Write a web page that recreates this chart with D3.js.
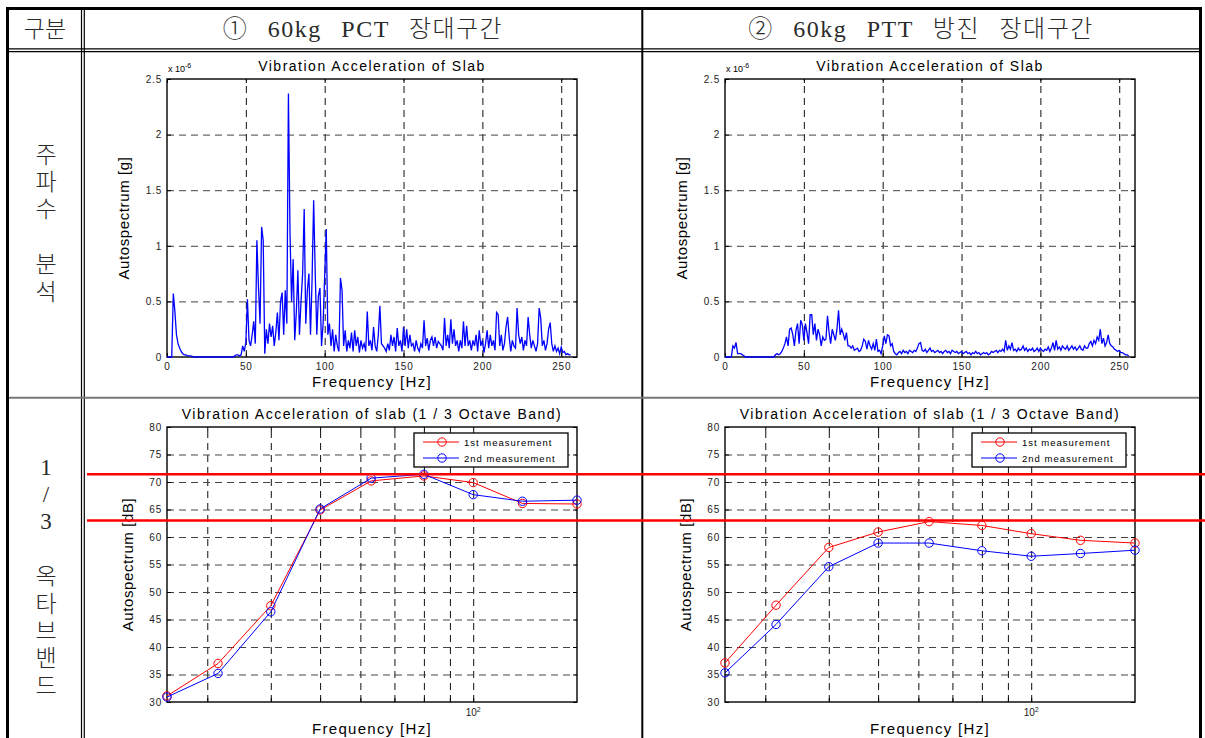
<!DOCTYPE html>
<html>
<head>
<meta charset="utf-8">
<script src="https://cdnjs.cloudflare.com/ajax/libs/d3/7.8.5/d3.min.js"></script>
<style>
body { margin: 0; background: #fff; }
svg { display: block; }
</style>
</head>
<body>
<script>
// table texts
var headCorner = "구분";
var headCols = ["① 60kg PCT 장대구간", "② 60kg PTT 방진 장대구간"];
var rowLabelTop = ["주", "파", "수", "", "분", "석"];
var rowLabelBottom = ["1", "/", "3", "", "옥", "타", "브", "밴", "드"];

var specTitle = "Vibration Acceleration of Slab";
var octTitle = "Vibration Acceleration of slab (1 / 3 Octave Band)";
var legendNames = ["1st measurement", "2nd measurement"];

// autospectrum, 1 Hz bins from 0 to 256 Hz, unit 1e-6 g
var specPCT = [
  0,0,0,0,.57,.41,.2,.12,.08,.05,
  .03,.02,.02,.01,.01,.01,.005,0,0,0,
  0,0,0,0,0,0,0,0,0,0,
  0,0,0,0,0,0,0,0,0,0,
  0,0,0,.01,.02,.02,.01,.02,.1,.05,
  .13,.52,.15,.1,.2,.32,.12,1.05,.63,.3,
  1.17,1.05,.03,.25,.12,.3,.18,.28,.1,.22,
  .4,.15,.5,.58,.2,.6,.3,2.37,1.12,.5,
  .88,.15,.4,.78,.2,.5,.75,1.33,.3,.6,
  .75,.2,.7,1.41,.75,.2,.55,.62,.1,.3,
  .73,1.15,.2,.3,.1,.25,.05,.2,.1,.05,
  .71,.6,.1,.24,.05,.15,.08,.22,.05,.24,
  .1,.18,.04,.15,.08,.12,.05,.41,.1,.15,
  .06,.27,.1,.05,.2,.46,.12,.1,.08,.05,
  .12,.06,.2,.1,.18,.05,.26,.1,.15,.05,
  .27,.1,.25,.08,.2,.1,.12,.05,.15,.08,
  .05,.12,.08,.33,.1,.17,.06,.15,.18,.1,
  .18,.08,.14,.12,.1,.06,.35,.1,.2,.08,
  .34,.12,.25,.1,.15,.05,.15,.08,.32,.1,
  .28,.1,.15,.06,.15,.1,.2,.05,.24,.1,
  .15,.04,.12,.24,.08,.2,.1,.15,.06,.4,
  .38,.1,.2,.06,.12,.27,.36,.18,.05,.15,
  .1,.08,.44,.2,.12,.18,.06,.15,.1,.36,
  .2,.08,.15,.1,.05,.12,.44,.35,.1,.15,
  .06,.12,.25,.31,.12,.05,.1,.05,.08,.03,
  .09,.04,.05,.02,.03,.02,.02
];
var specPTT = [
  0,0,0,0,0,.1,.08,.13,.03,.03,
  .03,.02,.01,0,0,0,0,0,0,0,
  0,0,0,0,0,0,0,0,0,0,
  0,0,.02,.03,.02,.03,.05,.08,.12,.18,
  .1,.25,.26,.2,.1,.24,.3,.12,.33,.29,
  .15,.3,.22,.12,.38,.38,.2,.3,.15,.25,
  .2,.1,.18,.15,.16,.37,.22,.12,.25,.2,
  .15,.25,.42,.2,.25,.21,.15,.22,.1,.1,
  .08,.1,.06,.07,.08,.05,.06,.1,.16,.14,
  .07,.15,.1,.07,.12,.06,.16,.05,.06,.03,
  .1,.19,.12,.2,.19,.1,.12,.05,.03,.02,
  .04,.05,.03,.06,.04,.05,.03,.06,.05,.04,
  .06,.05,.08,.12,.13,.06,.05,.07,.04,.06,
  .08,.05,.06,.04,.05,.06,.04,.05,.03,.05,
  .06,.04,.05,.03,.06,.05,.04,.05,.03,.04,
  .05,.03,.04,.05,.03,.04,.02,.04,.03,.05,
  .03,.04,.02,.03,.04,.03,.04,.02,.03,.05,
  .04,.05,.06,.04,.06,.05,.07,.05,.15,.06,
  .1,.07,.13,.06,.07,.05,.08,.06,.07,.1,
  .06,.08,.05,.07,.06,.08,.05,.06,.08,.05,
  .08,.06,.05,.07,.06,.09,.05,.08,.13,.06,
  .15,.07,.09,.06,.1,.08,.07,.1,.06,.08,
  .1,.07,.09,.06,.08,.1,.07,.06,.1,.08,
  .08,.12,.14,.1,.15,.12,.18,.15,.25,.12,
  .17,.1,.13,.2,.12,.1,.09,.07,.06,.05,
  .06,.04,.04,.03,.02,.02,.01
];
var specXTicks = [0, 50, 100, 150, 200, 250];
var specYTicks = [0, 0.5, 1, 1.5, 2, 2.5];

// 1/3 octave band levels [dB]
var bands = [25, 31.5, 40, 50, 63, 80, 100, 125, 160];
var pct1 = [31.1, 37.0, 47.5, 64.9, 70.2, 71.1, 69.9, 66.1, 66.0];
var pct2 = [30.9, 35.2, 46.4, 65.1, 70.7, 71.4, 67.7, 66.5, 66.7];
var ptt1 = [37.1, 47.6, 58.1, 60.9, 62.8, 62.1, 60.6, 59.4, 58.9];
var ptt2 = [35.3, 44.1, 54.6, 58.9, 58.9, 57.5, 56.5, 57.0, 57.6];
var octXGrid = [30, 40, 50, 60, 70, 80, 90, 100];
var octYTicks = [30, 35, 40, 45, 50, 55, 60, 65, 70, 75, 80];
var refLevels = [71.4, 63.0];

var W = 1205, H = 738;
var plotFont = "'Liberation Sans', Arial, sans-serif";
var svg = d3.select("body").append("svg").attr("width", W).attr("height", H);

// ---------- table ----------
var tbl = svg.append("g");
function hline(y, x0, x1, w, c) {
  tbl.append("line").attr("x1", x0).attr("x2", x1).attr("y1", y).attr("y2", y)
    .attr("stroke", c || "#000").attr("stroke-width", w);
}
function vline(x, y0, y1, w, c) {
  tbl.append("line").attr("x1", x).attr("x2", x).attr("y1", y0).attr("y2", y1)
    .attr("stroke", c || "#000").attr("stroke-width", w);
}

var headFont = "'Liberation Serif', 'Noto Sans CJK KR', serif";
var headInk = "#2a2a2a";
svg.append("text").attr("x", 45).attr("y", 37).attr("text-anchor", "middle")
  .style("font-family", "'Noto Sans CJK KR'").style("font-size", "23px").style("font-weight", 300)
  .attr("fill", headInk).text(headCorner);
[363, 921].forEach(function(cx, i) {
  svg.append("text").attr("x", cx).attr("y", 37).attr("text-anchor", "middle")
    .style("font-family", headFont).style("font-size", "24px").style("font-weight", 300)
    .style("word-spacing", "12px").style("letter-spacing", "1.5px")
    .attr("fill", headInk).text(headCols[i]);
});
rowLabelTop.forEach(function(ch, i) {
  svg.append("text").attr("x", 46).attr("y", 155 + i * 27.4).attr("text-anchor", "middle")
    .attr("dominant-baseline", "central")
    .style("font-family", headFont).style("font-size", "23px").style("font-weight", 300)
    .attr("fill", headInk).text(ch);
});
rowLabelBottom.forEach(function(ch, i) {
  svg.append("text").attr("x", 46).attr("y", 467 + i * 27.4).attr("text-anchor", "middle")
    .attr("dominant-baseline", "central")
    .style("font-family", headFont).style("font-size", "23px").style("font-weight", 300)
    .attr("fill", headInk).text(ch);
});

// ---------- panels ----------
function styleGrid(sel, color) {
  sel.select(".domain").remove();
  sel.selectAll("line").attr("stroke", color).attr("stroke-width", 1).attr("stroke-dasharray", "7,5");
}
function tickText(sel) {
  sel.select(".domain").remove();
  sel.selectAll("line").attr("stroke", "#000");
  sel.selectAll("text").style("font-family", plotFont).style("font-size", "10px")
    .style("letter-spacing", "0.8px").attr("fill", "#222");
}
function frame(g, b, x, y, xt, yt, xfmt, yfmt) {
  var w = b.x1 - b.x0, h = b.y1 - b.y0;
  g.append("g").attr("transform", "translate(0," + b.y1 + ")")
    .call(d3.axisBottom(x).tickValues(xt.grid).tickSize(-h).tickFormat("")).call(styleGrid, "#111");
  g.append("g").attr("transform", "translate(" + b.x0 + ",0)")
    .call(d3.axisLeft(y).tickValues(yt.grid).tickSize(-w).tickFormat("")).call(styleGrid, "#444");
  g.append("g").attr("transform", "translate(0," + b.y1 + ")")
    .call(d3.axisBottom(x).tickValues(xt.ticks).tickSizeInner(-4).tickSizeOuter(0).tickPadding(6).tickFormat(xfmt))
    .call(tickText);
  g.append("g").attr("transform", "translate(0," + b.y0 + ")")
    .call(d3.axisTop(x).tickValues(xt.ticks).tickSizeInner(-4).tickSizeOuter(0).tickFormat(""))
    .call(tickText);
  g.append("g").attr("transform", "translate(" + b.x0 + ",0)")
    .call(d3.axisLeft(y).tickValues(yt.ticks).tickSizeInner(-4).tickSizeOuter(0).tickPadding(5).tickFormat(yfmt))
    .call(tickText);
  g.append("g").attr("transform", "translate(" + b.x1 + ",0)")
    .call(d3.axisRight(y).tickValues(yt.ticks).tickSizeInner(-4).tickSizeOuter(0).tickFormat(""))
    .call(tickText);
  g.append("rect").attr("x", b.x0).attr("y", b.y0).attr("width", w).attr("height", h)
    .attr("fill", "none").attr("stroke", "#000").attr("stroke-width", 1.4);
}
function labels(g, b, title, xlab, ylab, xoff, yoff) {
  var cx = (b.x0 + b.x1) / 2, cy = (b.y0 + b.y1) / 2;
  g.append("text").attr("x", cx).attr("y", b.y0 - 8).attr("text-anchor", "middle")
    .style("font-family", plotFont).style("font-size", "14px").style("letter-spacing", "1.5px")
    .text(title);
  g.append("text").attr("x", cx).attr("y", b.y1 + xoff).attr("text-anchor", "middle")
    .style("font-family", plotFont).style("font-size", "15px").style("letter-spacing", "1.3px")
    .text(xlab);
  g.append("text").attr("transform", "translate(" + (b.x0 - yoff) + "," + cy + ") rotate(-90)")
    .attr("text-anchor", "middle")
    .style("font-family", plotFont).style("font-size", "15px").style("letter-spacing", "0.6px")
    .text(ylab);
}

function spectrumPanel(b, data) {
  var g = svg.append("g");
  var x = d3.scaleLinear().domain([0, 260]).range([b.x0, b.x1]);
  var y = d3.scaleLinear().domain([0, 2.5]).range([b.y1, b.y0]);
  frame(g, b, x, y, { grid: specXTicks.slice(1), ticks: specXTicks },
    { grid: specYTicks.slice(1, -1), ticks: specYTicks }, d3.format("~g"), d3.format("~g"));
  g.append("path").datum(data)
    .attr("d", d3.line().x(function(d, i) { return x(i); }).y(function(d) { return y(d); }))
    .attr("fill", "none").attr("stroke", "#0000ff").attr("stroke-width", 1.3);
  labels(g, b, specTitle, "Frequency [Hz]", "Autospectrum [g]", 30, 38);
  var ex = g.append("text").attr("x", b.x0 + 1).attr("y", b.y0 - 7)
    .style("font-family", plotFont).style("font-size", "9px");
  ex.append("tspan").text("x 10");
  ex.append("tspan").attr("dy", -4).style("font-size", "7px").text("-6");
}

function octavePanel(b, s1, s2) {
  var g = svg.append("g");
  var x = d3.scaleLog().domain([25, 160]).range([b.x0, b.x1]);
  var y = d3.scaleLinear().domain([30, 80]).range([b.y1, b.y0]);
  frame(g, b, x, y, { grid: octXGrid, ticks: octXGrid },
    { grid: octYTicks.slice(1, -1), ticks: octYTicks }, "", d3.format("d"));
  var lab = g.append("text").attr("x", x(100)).attr("y", b.y1 + 14).attr("text-anchor", "middle")
    .style("font-family", plotFont).style("font-size", "10px").attr("fill", "#222");
  lab.append("tspan").text("10");
  lab.append("tspan").attr("dy", -4).style("font-size", "7px").text("2");

  var line = d3.line().x(function(d, i) { return x(bands[i]); }).y(function(d) { return y(d); });
  [[s1, "#ff0000"], [s2, "#0000ff"]].forEach(function(s) {
    g.append("path").datum(s[0]).attr("d", line).attr("fill", "none")
      .attr("stroke", s[1]).attr("stroke-width", 1);
    g.selectAll(null).data(s[0]).enter().append("circle")
      .attr("cx", function(d, i) { return x(bands[i]); }).attr("cy", function(d) { return y(d); })
      .attr("r", 4.2).attr("fill", "none").attr("stroke", s[1]).attr("stroke-width", 1);
  });

  // legend
  var lx = b.x1 - 163, ly = b.y0 + 6;
  g.append("rect").attr("x", lx).attr("y", ly).attr("width", 154).attr("height", 34)
    .attr("fill", "#fff").attr("stroke", "#000").attr("stroke-width", 1.3);
  ["#ff0000", "#0000ff"].forEach(function(c, i) {
    var yy = ly + 9 + i * 16;
    g.append("line").attr("x1", lx + 9).attr("x2", lx + 45).attr("y1", yy).attr("y2", yy)
      .attr("stroke", c).attr("stroke-width", 1);
    g.append("circle").attr("cx", lx + 28).attr("cy", yy).attr("r", 4.2)
      .attr("fill", "none").attr("stroke", c);
    g.append("text").attr("x", lx + 50).attr("y", yy + 3.5)
      .style("font-family", plotFont).style("font-size", "9.5px").style("letter-spacing", "1px")
      .text(legendNames[i]);
  });
  labels(g, b, octTitle, "Frequency [Hz]", "Autospectrum [dB]", 32, 34);
  return y;
}

spectrumPanel({ x0: 167, x1: 577, y0: 79, y1: 357 }, specPCT);
spectrumPanel({ x0: 725, x1: 1135, y0: 79, y1: 357 }, specPTT);
var yRef = octavePanel({ x0: 167, x1: 577, y0: 427, y1: 702 }, pct1, pct2);
octavePanel({ x0: 725, x1: 1135, y0: 427, y1: 702 }, ptt1, ptt2);

// table rules drawn last so they sit on top
hline(8.5, 6, 1202, 3);
vline(7.5, 7, H, 3);
vline(1200.5, 7, H, 3);
vline(81.5, 10, H, 1.2);
vline(84.3, 10, H, 1.2);
hline(48.8, 9, 1199, 1.2);
hline(51.7, 9, 1199, 1.2);
vline(642.3, 10, H, 2);
hline(397.7, 9, 1199, 2, "#777");

// red reference levels across the octave-band row
svg.append("g").selectAll("line").data(refLevels).enter().append("line")
  .attr("x1", 87).attr("x2", W)
  .attr("y1", function(d) { return yRef(d); }).attr("y2", function(d) { return yRef(d); })
  .attr("stroke", "#ff0000").attr("stroke-width", 2.5);
</script>
</body>
</html>
